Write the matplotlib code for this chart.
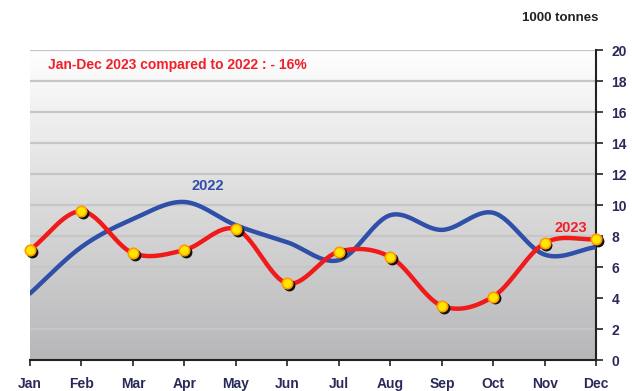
import numpy as np
import matplotlib
matplotlib.use('Agg')
import matplotlib.pyplot as plt
from matplotlib.transforms import ScaledTranslation

months = ['Jan', 'Feb', 'Mar', 'Apr', 'May', 'Jun', 'Jul', 'Aug', 'Sep', 'Oct', 'Nov', 'Dec']
vals_2022 = [4.3, 7.3, 9.1, 10.2, 8.7, 7.6, 6.45, 9.35, 8.4, 9.5, 6.8, 7.3]
vals_2023 = [7.1, 9.6, 6.9, 7.1, 8.45, 4.95, 7.0, 6.65, 3.5, 4.1, 7.55, 7.8]


def lissage(y, n=30):
    """Courbe lissee type Catmull-Rom passant par tous les points."""
    y = np.asarray(y, dtype=float)
    x = np.arange(len(y), dtype=float)
    px = np.concatenate([[2 * x[0] - x[1]], x, [2 * x[-1] - x[-2]]])
    py = np.concatenate([[2 * y[0] - y[1]], y, [2 * y[-1] - y[-2]]])
    xs, ys = [], []
    t = np.linspace(0, 1, n, endpoint=False)
    for i in range(1, len(px) - 2):
        for arr, out in ((px, xs), (py, ys)):
            p0, p1, p2, p3 = arr[i - 1], arr[i], arr[i + 1], arr[i + 2]
            out.append(0.5 * (2 * p1 + (-p0 + p2) * t
                              + (2 * p0 - 5 * p1 + 4 * p2 - p3) * t ** 2
                              + (-p0 + 3 * p1 - 3 * p2 + p3) * t ** 3))
    xs.append([x[-1]]); ys.append([y[-1]])
    return np.concatenate(xs), np.concatenate(ys)


plt.rcParams['font.family'] = ['Liberation Sans', 'DejaVu Sans']
fig = plt.figure(figsize=(6.32, 3.91), dpi=100)
ax = fig.add_axes([0.0475, 0.079, 0.896, 0.793])

x = np.arange(len(months))

# fond degrade : gris en bas, blanc en haut
grad = np.linspace(0.0, 1.0, 256).reshape(-1, 1)
cmap_fond = matplotlib.colors.LinearSegmentedColormap.from_list('g', ['#b7b7b9', '#ffffff'])
ax.imshow(grad, extent=[0, len(months) - 1, 0, 20], aspect='auto',
          cmap=cmap_fond, origin='lower', zorder=0)
ax.set_ylim(0, 20)
ax.set_xlim(0, len(months) - 1)

for v in range(2, 21, 2):
    ax.axhline(v, color='#c6c6c6', lw=1.6, zorder=1)

xs, ys = lissage(vals_2022)
ax.plot(xs, ys, color='#2f4fa8', lw=3.2, zorder=3, solid_capstyle='round')
xs, ys = lissage(vals_2023)
ax.plot(xs, ys, color='#f01a1a', lw=3.2, zorder=4, solid_capstyle='round')

# marqueurs avec ombre
ombre = ax.transData + ScaledTranslation(1.2 / 72, -1.2 / 72, fig.dpi_scale_trans)
ax.plot(x, vals_2023, 'o', ms=7.5, color='#111111', zorder=5, transform=ombre, clip_on=False)
ax.plot(x, vals_2023, 'o', ms=7.5, markerfacecolor='#ffe600', markeredgecolor='#ff9900',
        markeredgewidth=1.2, zorder=6, clip_on=False)

for s in ['left', 'top']:
    ax.spines[s].set_visible(False)
for s in ['right', 'bottom']:
    ax.spines[s].set_color('#222222')
    ax.spines[s].set_linewidth(1.5)

ax.yaxis.tick_right()
ax.set_yticks(range(0, 21, 2))
ax.set_xticks(x)
ax.set_xticklabels(months)
ax.tick_params(axis='y', length=5, width=1.2, color='#222222', labelsize=10,
               labelcolor='#2a2a5a', pad=6)
ax.tick_params(axis='x', length=4, width=1.2, color='#222222', labelsize=10,
               labelcolor='#2a2a5a', pad=8)
for lab in ax.get_xticklabels() + ax.get_yticklabels():
    lab.set_fontweight('bold')

fig.text(0.947, 0.955, '1000 tonnes', ha='right', va='center',
         fontsize=9.5, fontweight='bold', color='#222222')
ax.text(0.35, 19.05, 'Jan-Dec 2023 compared to 2022 : - 16%', ha='left', va='center',
        fontsize=10, fontweight='bold', color='#f0202a')
ax.text(3.45, 11.25, '2022', ha='center', va='center', fontsize=10.5,
        fontweight='bold', color='#2f4fa8')
ax.text(10.5, 8.55, '2023', ha='center', va='center', fontsize=10.5,
        fontweight='bold', color='#f0202a', zorder=7)

fig.savefig('out.png', dpi=100)
